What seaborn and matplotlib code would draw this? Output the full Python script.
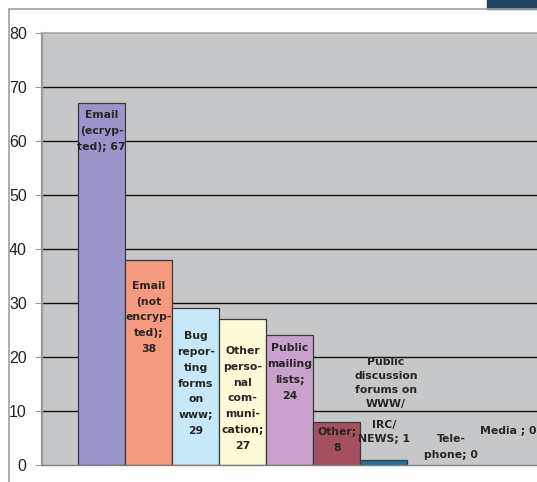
import matplotlib
matplotlib.use("Agg")
import matplotlib.pyplot as plt
from matplotlib.patches import Rectangle
from matplotlib.lines import Line2D
import seaborn as sns
import pandas as pd

# Channels used for reporting, with counts
categories = [
    "Email (ecrypted)", "Email (not encrypted)", "Bug reporting forms on www",
    "Other personal communication", "Public mailing lists", "Other",
    "Public discussion forums on WWW/IRC/NEWS", "Telephone", "Media",
]
values = [67, 38, 29, 27, 24, 8, 1, 0, 0]
label_texts = [
    "Email\n(ecryp-\nted); {}",
    "Email\n(not\nencryp-\nted);\n{}",
    "Bug\nrepor-\nting\nforms\non\nwww;\n{}",
    "Other\nperso-\nnal\ncom-\nmuni-\ncation;\n{}",
    "Public\nmailing\nlists;\n{}",
    "Other;\n{}",
    "Public\ndiscussion\nforums on\nWWW/\nIRC/\nNEWS; {}",
    "Tele-\nphone; {}",
    "Media ; {}",
]
colors = ["#9B94C8", "#F59A7C", "#C7E8F8", "#FFFBD8", "#C9A1CC",
          "#A4505E", "#1F6EA6", "#C6C7C9", "#C6C7C9"]
y_ticks = [0, 10, 20, 30, 40, 50, 60, 70, 80]

sns.set_theme(style="white")
plt.rcParams["font.family"] = ["Liberation Sans", "DejaVu Sans"]

fig = plt.figure(figsize=(5.37, 4.82), dpi=100)
ax = fig.add_axes([42 / 537, 1 - 465 / 482, 1 - 42 / 537 + 0.001, (465 - 33) / 482])
ax.set_facecolor("#C6C7C9")

df = pd.DataFrame({"cat": categories, "val": values})
sns.barplot(data=df, x="cat", y="val", hue="cat", palette=colors, legend=False,
            saturation=1, width=1.0, edgecolor="#3a3a3a", linewidth=0.9,
            ax=ax, zorder=2)
for bar, v in zip(ax.patches, values):
    if v == 0:
        bar.set_linewidth(0)

ax.set_xlim(-1.266, 9.266)
ax.set_ylim(0, 80)
ax.set_yticks(y_ticks)
ax.set_yticklabels([str(t) for t in y_ticks], fontsize=11.5, color="#222222")
ax.set_xticks([])
ax.set_xlabel("")
ax.set_ylabel("")
ax.set_axisbelow(True)
for t in y_ticks[1:-1]:
    ax.axhline(t, color="#111111", lw=1.0, zorder=1)
ax.tick_params(axis="y", which="both", length=5, width=0.8, color="#999999",
               pad=6, left=True, direction="out")

ax.spines["right"].set_visible(False)
ax.spines["left"].set_color("#9a9a9a")
ax.spines["left"].set_linewidth(1.6)
ax.spines["top"].set_color("#a8a8a8")
ax.spines["top"].set_linewidth(1.2)
ax.spines["bottom"].set_color("#808080")
ax.spines["bottom"].set_linewidth(1.0)

# value labels: inside the taller bars, beside/above the small ones
lbl = dict(ha="center", fontsize=7.8, fontweight="bold", color="#262626",
           family="DejaVu Sans", linespacing=1.72, textcoords="offset pixels",
           zorder=4, annotation_clip=False)
inside_drop = [7, 21, 23, 27, 8, 5]
for i, (v, txt) in enumerate(zip(values, label_texts)):
    s = txt.format(v)
    if i < len(inside_drop):
        ax.annotate(s, xy=(i, v), xytext=(0, -inside_drop[i]), va="top", **lbl)
    elif i == 6:
        lines = s.split("\n")
        ax.annotate("\n".join(lines[:4]), xy=(i, v), xytext=(2, 51),
                    va="bottom", **{**lbl, "linespacing": 1.47})
        ax.annotate("\n".join(lines[4:]), xy=(i, v), xytext=(0, 16),
                    va="bottom", **{**lbl, "linespacing": 1.47})
    elif i == 7:
        ax.annotate(s, xy=(i, v), xytext=(20, 5), va="bottom", **lbl)
    else:
        ax.annotate(s, xy=(i, v), xytext=(30, 34), va="center", **lbl)

# frame lines and corner block of the page
fig.add_artist(Line2D([9 / 537, 1], [1 - 9 / 482, 1 - 9 / 482],
                      color="#a0a0a0", lw=1.2, transform=fig.transFigure))
fig.add_artist(Line2D([9 / 537, 9 / 537], [0, 1 - 9 / 482],
                      color="#a0a0a0", lw=1.2, transform=fig.transFigure))
fig.add_artist(Rectangle((487 / 537, 1 - 9 / 482), 50 / 537, 9 / 482,
                         color="#223F5E", transform=fig.transFigure))

fig.savefig("out.png", dpi=100)
